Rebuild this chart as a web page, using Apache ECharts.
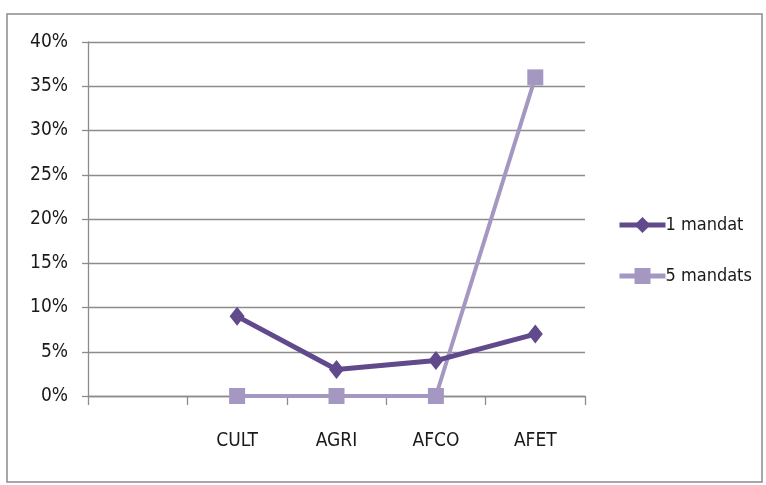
<!DOCTYPE html>
<html>
<head>
<meta charset="utf-8">
<script src="https://cdn.jsdelivr.net/npm/echarts@6/dist/echarts.min.js"></script>
<style>
  html, body { margin: 0; padding: 0; background: #fff; }
  #chart { width: 766px; height: 485px; }
</style>
</head>
<body>
<div id="chart"></div>
<script>
// Committees (first slot is left empty on the axis)
const categories = ['', 'CULT', 'AGRI', 'AFCO', 'AFET'];
// Share per committee, in fractions
const oneMandate = [null, 0.09, 0.03, 0.04, 0.07];
const fiveMandates = [null, 0, 0, 0, 0.36];
const seriesNames = ['1 mandat', '5 mandats'];

const FONT = "'Liberation Sans Narrow', 'DejaVu Sans Condensed', sans-serif";
const gridColor = '#8c8c8c';
const darkPurple = '#604a8c';
const lightPurple = '#a497c2';

const chart = echarts.init(document.getElementById('chart'));
chart.setOption({
  animation: false,
  backgroundColor: '#fff',
  graphic: [{
    type: 'rect',
    shape: { x: 7, y: 14, width: 755, height: 468 },
    style: { fill: 'none', stroke: '#8a8a8a', lineWidth: 1.5 },
    silent: true
  }],
  grid: { left: 88, top: 42, width: 497, height: 354, containLabel: false },
  legend: {
    orient: 'vertical',
    left: 612,
    top: 211,
    itemGap: 33,
    itemWidth: 46,
    itemHeight: 20,
    lineStyle: { width: 5 },
    textStyle: { fontFamily: FONT, fontSize: 18, color: '#1a1a1a', padding: [0, 0, 0, -5] },
    data: seriesNames
  },
  xAxis: {
    type: 'category',
    data: categories,
    boundaryGap: true,
    axisLine: { show: true, lineStyle: { color: gridColor, width: 1.3 } },
    axisTick: { show: true, alignWithLabel: false, length: 9, lineStyle: { color: gridColor, width: 1.3 } },
    axisLabel: { fontFamily: FONT, fontSize: 19, color: '#1a1a1a', margin: 36, interval: 0 }
  },
  yAxis: {
    type: 'value',
    min: 0,
    max: 0.4,
    interval: 0.05,
    axisLine: { show: true, lineStyle: { color: gridColor, width: 1.3 } },
    axisTick: { show: true, length: 6, lineStyle: { color: gridColor, width: 1.3 } },
    splitLine: { show: true, lineStyle: { color: gridColor, width: 1.3 } },
    axisLabel: {
      fontFamily: FONT, fontSize: 19, color: '#1a1a1a', margin: 20,
      formatter: v => Math.round(v * 100) + '%'
    }
  },
  series: [
    {
      name: seriesNames[0],
      type: 'line',
      data: oneMandate,
      symbol: 'diamond',
      symbolSize: [15, 19],
      lineStyle: { color: darkPurple, width: 5 },
      itemStyle: { color: darkPurple },
      z: 3
    },
    {
      name: seriesNames[1],
      type: 'line',
      data: fiveMandates,
      symbol: 'rect',
      symbolSize: 16,
      lineStyle: { color: lightPurple, width: 4 },
      itemStyle: { color: lightPurple },
      z: 2
    }
  ]
});
</script>
</body>
</html>
